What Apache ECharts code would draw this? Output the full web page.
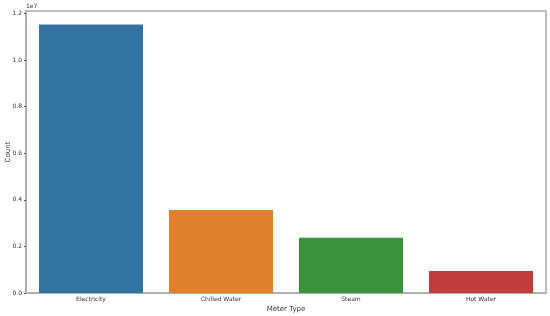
<!DOCTYPE html>
<html><head><meta charset="utf-8">
<script src="https://cdn.jsdelivr.net/npm/echarts@6/dist/echarts.min.js"></script>
<style>html,body{margin:0;padding:0;background:#fff}#c{width:550px;height:316px}</style>
</head><body><div id="c"></div>
<script>
const categories = ['Electricity', 'Chilled Water', 'Steam', 'Hot Water'];
const counts = [11530000, 3560000, 2370000, 940000];
const colors = ['#3274a1', '#e1812c', '#3a923a', '#c03d3e'];
const yTicks = [0, 2000000, 4000000, 6000000, 8000000, 10000000, 12000000];

const chart = echarts.init(document.getElementById('c'));
const font = 'DejaVu Sans';
chart.setOption({
  animation: false,
  grid: {left: 26, right: 4, top: 11, bottom: 23, show: true, borderColor: '#aaa', borderWidth: 1.5,
    containLabel: false, outerBoundsMode: 'none'},
  graphic: [{type: 'text', left: 26, top: 3, style: {text: '1e7', font: '6px ' + font, fill: '#333'}}],
  xAxis: {
    type: 'category', data: categories,
    name: 'Meter Type', nameLocation: 'middle', nameGap: 13, nameMoveOverlap: false,
    nameTextStyle: {fontFamily: font, fontSize: 7, color: '#333'},
    axisLine: {lineStyle: {color: '#aaa', width: 1.5}},
    axisTick: {alignWithLabel: true, length: 2, lineStyle: {color: '#555'}},
    axisLabel: {fontFamily: font, fontSize: 6, color: '#333', margin: 3},
    splitLine: {show: false}
  },
  yAxis: {
    type: 'value', min: 0, max: v => v.max * 1.05, interval: 2000000,
    name: 'Count', nameLocation: 'middle', nameGap: 14, nameMoveOverlap: false,
    nameTextStyle: {fontFamily: font, fontSize: 7, color: '#333'},
    axisLine: {show: true, lineStyle: {color: '#aaa', width: 1.5}},
    axisTick: {show: true, length: 2, lineStyle: {color: '#555'}},
    axisLabel: {fontFamily: font, fontSize: 6, color: '#333', margin: 4,
      showMaxLabel: false,
      formatter: v => yTicks.includes(v) ? (v / 1e7).toFixed(1) : ''},
    splitLine: {show: false}
  },
  series: [{
    type: 'bar', barWidth: '80%',
    data: counts.map((v, i) => ({value: v, itemStyle: {color: colors[i]}}))
  }]
});
</script></body></html>
